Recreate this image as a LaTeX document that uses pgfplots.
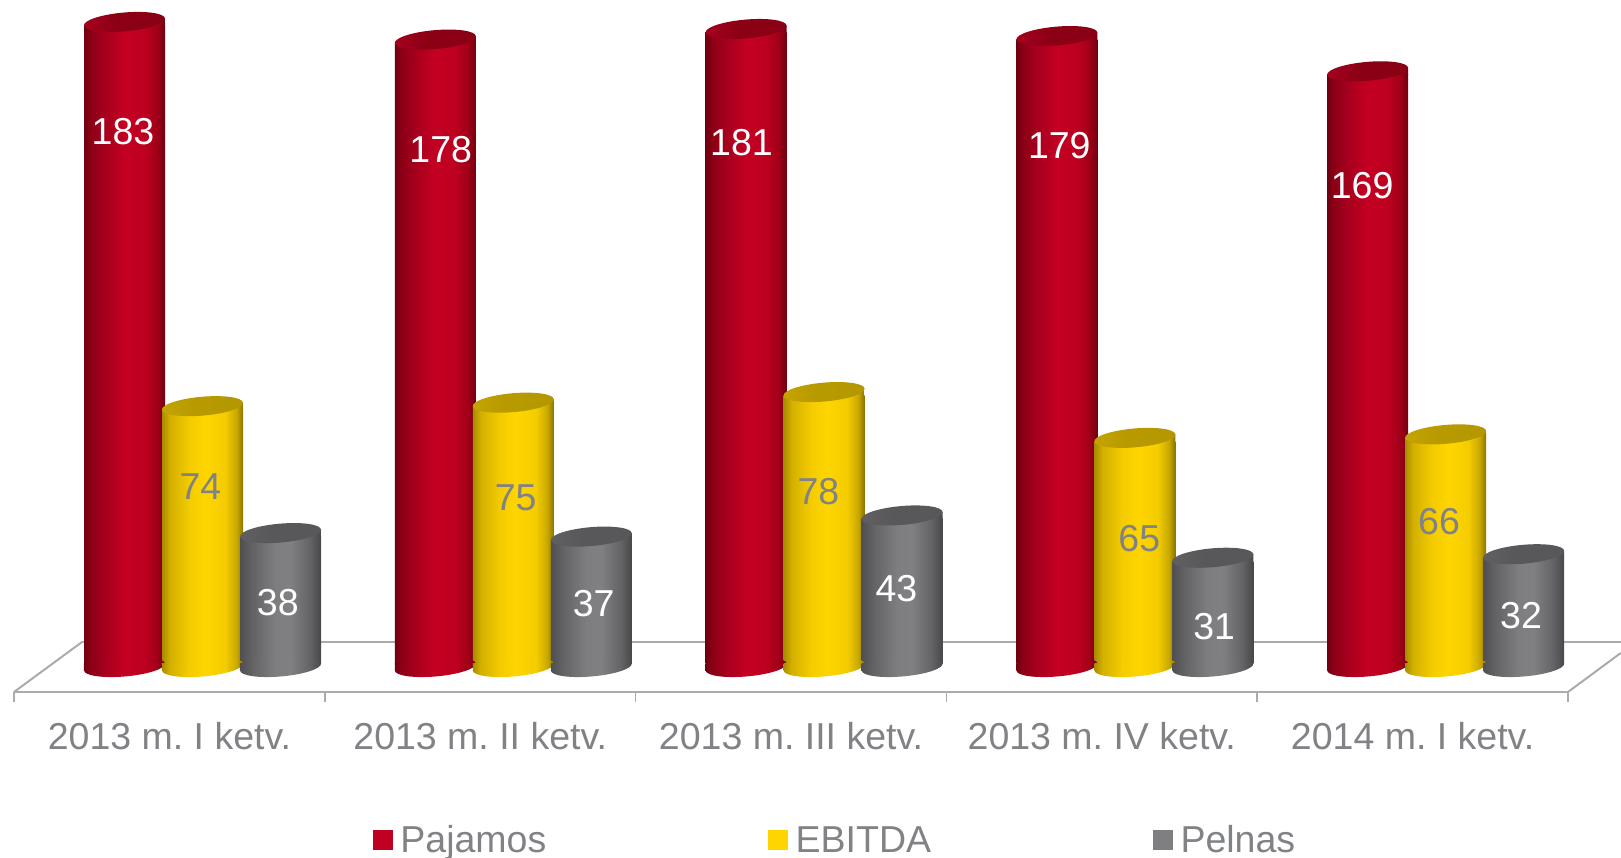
\documentclass[border=0pt]{standalone}
\usepackage{fontspec}
\setmainfont{Liberation Sans}
\frenchspacing
\usepackage{pgfplots}
\usepackage{pgfplotstable}
\pgfplotsset{compat=1.18}
\definecolor{txt}{HTML}{808285}
\definecolor{floorc}{HTML}{ABABAB}
\definecolor{pred}{HTML}{C00022}
\definecolor{pyel}{HTML}{FFD500}
\definecolor{pgry}{HTML}{7F7F82}
\newcommand\dc[1]{\definecolor{c#1}{HTML}{#1}}
\dc{6E0010}\dc{8C0016}\dc{AC001E}\dc{C40022}\dc{BE0020}\dc{A00018}\dc{700010}
\dc{A88C00}\dc{D4B000}\dc{F4CC00}\dc{FFD500}\dc{C8A800}\dc{8A7300}
\dc{505052}\dc{646466}\dc{7E7E81}\dc{808083}\dc{48484A}
\dc{A5001E}\dc{8C0014}\dc{8A0014}\dc{C4A400}\dc{B89A00}\dc{B49600}\dc{606062}\dc{58585A}
\pgfdeclarehorizontalshading{redcyl}{100bp}{color(0bp)=(c6E0010); color(25bp)=(c6E0010); color(29bp)=(c8C0016); color(40bp)=(cAC001E); color(50bp)=(cC40022); color(62bp)=(cBE0020); color(70bp)=(cA00018); color(75bp)=(c700010); color(100bp)=(c700010)}
\pgfdeclarehorizontalshading{yelcyl}{100bp}{color(0bp)=(cA88C00); color(25bp)=(cA88C00); color(30bp)=(cD4B000); color(42bp)=(cF4CC00); color(52bp)=(cFFD500); color(64bp)=(cF4CC00); color(71bp)=(cC8A800); color(75bp)=(c8A7300); color(100bp)=(c8A7300)}
\pgfdeclarehorizontalshading{grycyl}{100bp}{color(0bp)=(c505052); color(25bp)=(c505052); color(33bp)=(c646466); color(47bp)=(c7E7E81); color(56bp)=(c808083); color(68bp)=(c646466); color(75bp)=(c48484A); color(100bp)=(c48484A)}
\pgfdeclarehorizontalshading{redtop}{100bp}{color(0bp)=(cA5001E); color(25bp)=(cA5001E); color(45bp)=(c8C0014); color(75bp)=(c8A0014); color(100bp)=(c8A0014)}
\pgfdeclarehorizontalshading{yeltop}{100bp}{color(0bp)=(cC4A400); color(25bp)=(cC4A400); color(45bp)=(cB89A00); color(75bp)=(cB49600); color(100bp)=(cB49600)}
\pgfdeclarehorizontalshading{grytop}{100bp}{color(0bp)=(c606062); color(25bp)=(c606062); color(45bp)=(c58585A); color(75bp)=(c58585A); color(100bp)=(c58585A)}
% tilted ellipse centred on the mark: semi-axes a=(40.5,3.5), b=(-0.8,9.4), as four Bezier arcs
\newcommand\tiltell{(40.5pt,3.5pt) .. controls (40.06pt,8.69pt) and (21.57pt,11.33pt) .. (-0.8pt,9.4pt)
  .. controls (-23.17pt,7.47pt) and (-40.94pt,1.69pt) .. (-40.5pt,-3.5pt)
  .. controls (-40.06pt,-8.69pt) and (-21.57pt,-11.33pt) .. (0.8pt,-9.4pt)
  .. controls (23.17pt,-7.47pt) and (40.94pt,-1.69pt) .. cycle}
\newcommand\declcyl[1]{%
  \pgfdeclareplotmark{#1bot}{%
    \path[shading=#1cyl,draw=none] (-40.5pt,3.8pt)--(40.5pt,3.8pt)--(-40.5pt,-3.5pt)--cycle;
    \path[shading=#1cyl,draw=none] \tiltell;}%
  \pgfdeclareplotmark{#1top}{%
    \path[shading=#1cyl,draw=none] (-40.5pt,-3.8pt)--(40.5pt,-3.8pt)--(40.5pt,3.5pt)--cycle;
    \path[shading=#1top,draw=none] \tiltell;}%
}
\declcyl{red}\declcyl{yel}\declcyl{gry}
\pgfplotstableread{
x v lx ly
0 183 0.3473 151.35
1 178 1.3698 146.24
2 181 2.3376 148.23
3 179 3.3601 147.38
4 169 4.3344 136.03
}\tpaj
\pgfplotstableread{
x v lx ly
0 74 0.5965 50.64
1 75 1.6109 47.52
2 78 2.5852 49.22
3 65 3.6174 35.89
4 66 4.5820 40.71
}\tebi
\pgfplotstableread{
x v lx ly
0 38 0.8457 17.73
1 37 1.8617 17.45
2 43 2.8360 21.70
3 31 3.8585 10.92
4 32 4.8457 14.04
}\tpel
\newcommand\cyl[3]{% table, shift px, name
  \pgfplotsinvokeforeach{0,1,2,3,4}{%
    \addplot[ybar,bar width=81pt,bar shift=#2pt,shading=#3cyl,draw=none,forget plot,restrict x to domain=##1:##1] table[x=x,y expr=\thisrow{v}-2] {#1};
  }
  \addplot[only marks,mark=#3bot,forget plot] table[x expr=\thisrow{x}+#2/310.8,y expr=-1] {#1};
  \addplot[only marks,mark=#3top,forget plot] table[x expr=\thisrow{x}+#2/310.8,y expr=\thisrow{v}-1] {#1};
}
\newcommand\lab[2]{%
  \addplot[only marks,mark=none,forget plot,point meta=explicit,
    nodes near coords,nodes near coords align={anchor=center},
    nodes near coords style={font=\fontsize{37.5}{40}\selectfont,text=#2,inner sep=0pt,xshift=1pt,yshift=-1.5pt},
    /pgf/number format/assume math mode=true,
    /pgf/number format/fixed,/pgf/number format/precision=0]
    table[x=lx,y=ly,meta=v] {#1};
}
\begin{document}
\begin{tikzpicture}
\useasboundingbox (-14pt,-166pt) rectangle (1607pt,692pt);
\begin{axis}[
  scale only axis,width=1554pt,height=692pt,
  xmin=0,xmax=5,ymin=-8.085,ymax=188.23,
  clip=false,
  axis x line=bottom,axis y line=none,
  x axis line style={-,floorc,line width=2.5pt},
  xtick={0,1,2,3,4,5},
  x tick label as interval,
  xticklabels={2013 m. I ketv.,2013 m. II ketv.,2013 m. III ketv.,2013 m. IV ketv.,2014 m. I ketv.},
  major tick length=10pt,
  tick align=outside,
  x tick style={floorc,line width=1.5pt},
  xticklabel style={font=\fontsize{37.5}{40}\selectfont,text=txt,anchor=base,yshift=-47.5pt,inner sep=0pt},
  legend columns=3,
  legend cell align=left,
  legend style={at={(359pt,-148pt)},anchor=west,draw=none,fill=none,inner sep=0pt,outer sep=0pt,
    font=\fontsize{37.5}{40}\selectfont,text=txt,
    /tikz/every even column/.append style={column sep=220pt},
    /tikz/every odd column/.append style={column sep=6pt}},
]
\addplot[floorc,line width=2pt,forget plot] coordinates {(0,-8.085) (0.2188,6.1)};
\addplot[floorc,line width=2.8pt,forget plot] coordinates {(0.2188,6.1) (5.1702,6.1)};
\addplot[floorc,line width=2pt,forget plot] coordinates {(5,-8.085) (5.1702,3.0)};
\cyl{\tpaj}{110.5}{red}
\cyl{\tebi}{188.5}{yel}
\cyl{\tpel}{266.5}{gry}
\lab{\tpaj}{white}
\lab{\tebi}{txt}
\lab{\tpel}{white}
\addlegendimage{legend image code/.code={\fill[pred] (0pt,-9.5pt) rectangle (19pt,9.5pt);}}
\addlegendentry{Pajamos}
\addlegendimage{legend image code/.code={\fill[pyel] (0pt,-9.5pt) rectangle (19pt,9.5pt);}}
\addlegendentry{EBITDA}
\addlegendimage{legend image code/.code={\fill[pgry] (0pt,-9.5pt) rectangle (19pt,9.5pt);}}
\addlegendentry{Pelnas}
\end{axis}
\end{tikzpicture}
\end{document}
